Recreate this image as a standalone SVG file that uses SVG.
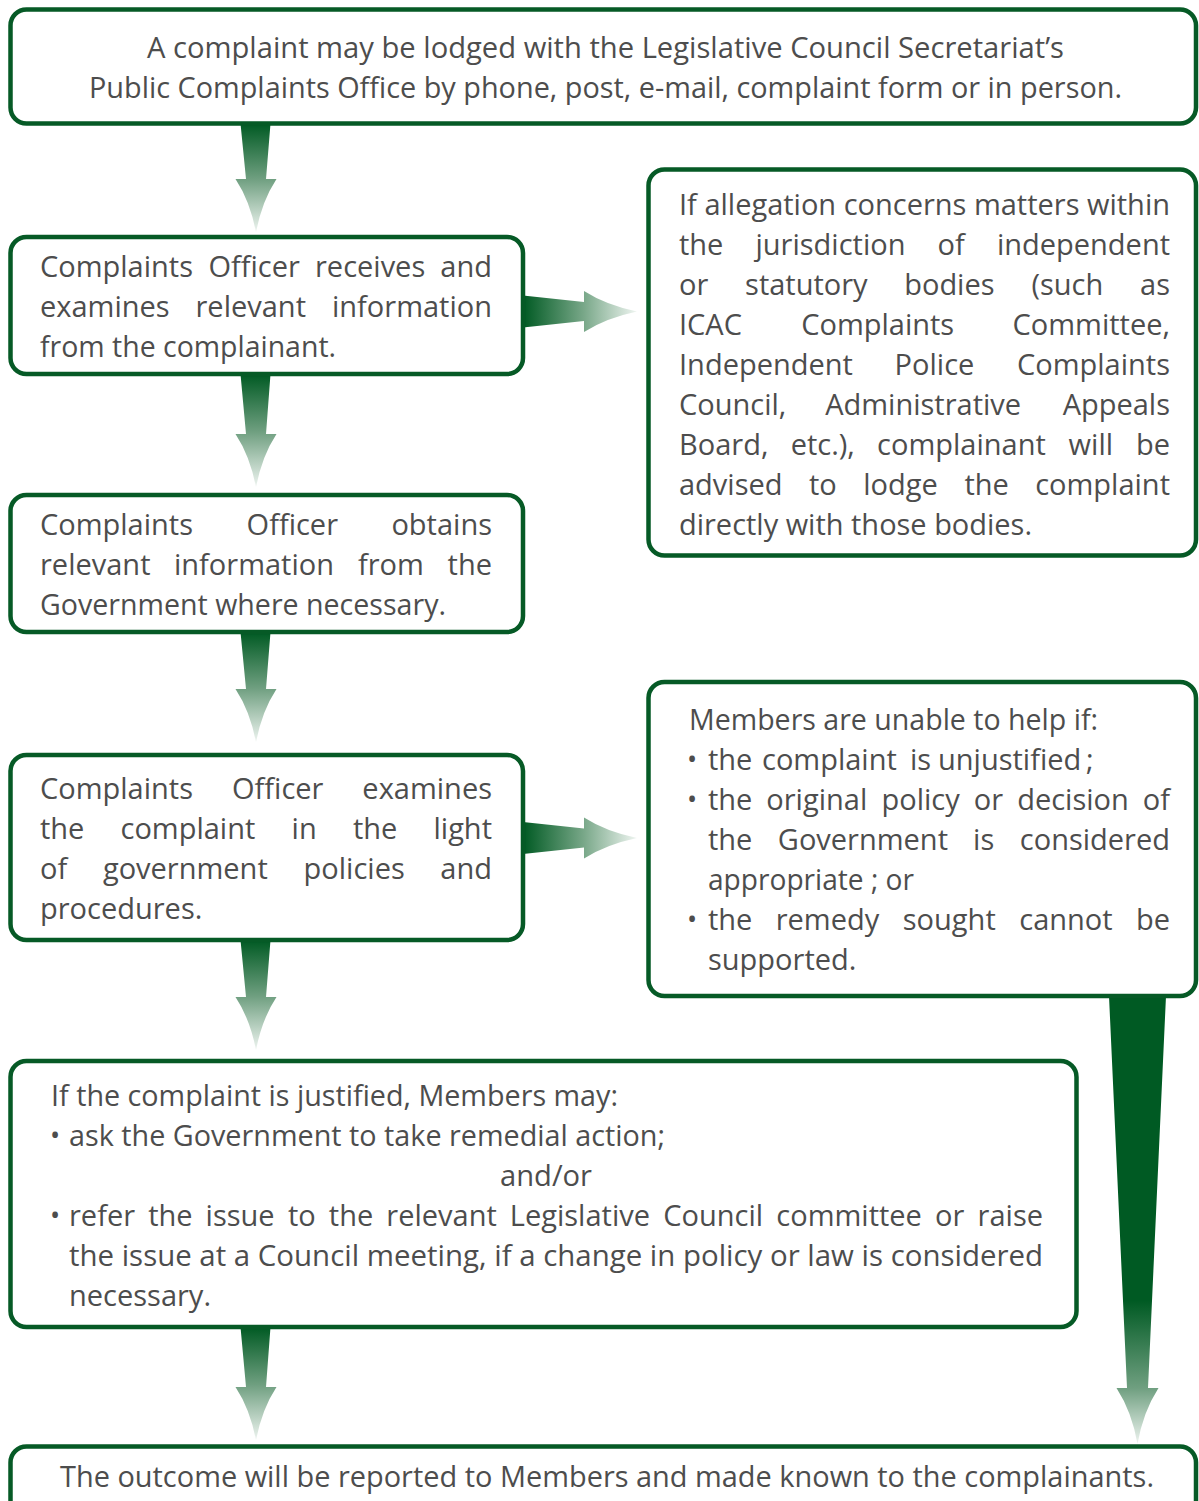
<svg xmlns="http://www.w3.org/2000/svg" width="1199" height="1501" viewBox="0 0 1199 1501">
<defs>
<linearGradient id="gv" x1="0" y1="0" x2="0" y2="1">
<stop offset="0" stop-color="#005a23"/>
<stop offset="0.51" stop-color="#6f9f80"/>
<stop offset="1" stop-color="#eef4f0"/>
</linearGradient>
<linearGradient id="gh" x1="0" y1="0" x2="1" y2="0">
<stop offset="0" stop-color="#005a23"/>
<stop offset="0.53" stop-color="#78a788"/>
<stop offset="1" stop-color="#eff5f1"/>
</linearGradient>
<linearGradient id="gbig" x1="0" y1="0" x2="0" y2="1">
<stop offset="0" stop-color="#005a23"/>
<stop offset="0.68" stop-color="#005a23"/>
<stop offset="0.875" stop-color="#6f9f80"/>
<stop offset="1" stop-color="#eef4f0"/>
</linearGradient>
<style>
.box{fill:#fff;stroke:#065a26;stroke-width:4.5}
.t{font-family:"Open Sans","Noto Sans","Liberation Sans",sans-serif;font-size:29px;fill:#4d4d4d}
.b{font-family:"Open Sans","Noto Sans","Liberation Sans",sans-serif;font-size:27px;fill:#4d4d4d}
.e{text-anchor:end}
.m{text-anchor:middle}
</style>
</defs>
<rect width="1199" height="1501" fill="#fff"/>
<g id="connectors">
<path fill="url(#gv)" d="M240.5,123.5 L270.5,123.5 L266,179 L276.5,179 Q262,201 256,232 Q250,201 235.5,179 L246,179 Z"/>
<path fill="url(#gv)" d="M240.5,374 L270.5,374 L266,434 L276.5,434 Q262,456 256,487 Q250,456 235.5,434 L246,434 Z"/>
<path fill="url(#gv)" d="M240.5,632 L270.5,632 L266,689 L276.5,689 Q262,711 256,742 Q250,711 235.5,689 L246,689 Z"/>
<path fill="url(#gv)" d="M240.5,940 L270.5,940 L266,997 L276.5,997 Q262,1019 256,1050 Q250,1019 235.5,997 L246,997 Z"/>
<path fill="url(#gv)" d="M240.5,1327 L270.5,1327 L266,1387 L276.5,1387 Q262,1409 256,1440 Q250,1409 235.5,1387 L246,1387 Z"/>
<path fill="url(#gh)" d="M523,295.5 L523,327.5 L584,321 L584,332 Q606,318 637,311.5 Q606,305 584,291 L584,302 Z"/>
<path fill="url(#gh)" d="M523,822 L523,854 L584,847.5 L584,858.5 Q606,844.5 637,838 Q606,831.5 584,817.5 L584,828.5 Z"/>
<path fill="url(#gbig)" d="M1109,996 L1166,996 L1148,1388 L1158.5,1388 Q1143,1412 1137.5,1444 Q1132,1412 1116.5,1388 L1127,1388 Z"/>
</g>
<g id="n1">
<rect class="box" x="10.5" y="9.5" width="1185.5" height="114" rx="16"/>
<text class="t m" x="605.5" y="58" textLength="917" lengthAdjust="spacingAndGlyphs">A complaint may be lodged with the Legislative Council Secretariat’s</text>
<text class="t m" x="605.5" y="98" textLength="1033" lengthAdjust="spacingAndGlyphs">Public Complaints Office by phone, post, e-mail, complaint form or in person.</text>
</g>
<g id="n2">
<rect class="box" x="10.5" y="237" width="512.5" height="137" rx="16"/>
<text class="t" y="277"><tspan x="40">Complaints</tspan><tspan x="208.4">Officer</tspan><tspan x="315">receives</tspan></text>
<text class="t e" x="492" y="277">and</text>
<text class="t" y="317"><tspan x="40">examines</tspan><tspan x="195.5">relevant</tspan></text>
<text class="t e" x="492" y="317">information</text>
<text class="t" x="40" y="357" textLength="296" lengthAdjust="spacingAndGlyphs">from the complainant.</text>
</g>
<g id="n3">
<rect class="box" x="10.5" y="495" width="512.5" height="137" rx="16"/>
<text class="t" y="535"><tspan x="40">Complaints</tspan><tspan x="246.6">Officer</tspan></text>
<text class="t e" x="492" y="535">obtains</text>
<text class="t" y="575"><tspan x="40">relevant</tspan><tspan x="174">information</tspan><tspan x="357.9">from</tspan></text>
<text class="t e" x="492" y="575">the</text>
<text class="t" x="40" y="615" textLength="406" lengthAdjust="spacingAndGlyphs">Government where necessary.</text>
</g>
<g id="n4">
<rect class="box" x="10.5" y="755" width="512.5" height="185" rx="16"/>
<text class="t" y="799"><tspan x="40">Complaints</tspan><tspan x="232">Officer</tspan></text>
<text class="t e" x="492" y="799">examines</text>
<text class="t" y="839"><tspan x="40">the</tspan><tspan x="120.5">complaint</tspan><tspan x="291.6">in</tspan><tspan x="352.9">the</tspan></text>
<text class="t e" x="492" y="839">light</text>
<text class="t" y="879"><tspan x="40">of</tspan><tspan x="102.9">government</tspan><tspan x="303.6">policies</tspan></text>
<text class="t e" x="492" y="879">and</text>
<text class="t" x="40" y="919">procedures.</text>
</g>
<g id="n5">
<rect class="box" x="648.5" y="169.5" width="547.5" height="386" rx="16"/>
<text class="t" x="679" y="215" textLength="491" lengthAdjust="spacingAndGlyphs">If allegation concerns matters within</text>
<text class="t" y="255"><tspan x="679">the</tspan><tspan x="755.5">jurisdiction</tspan><tspan x="937.6">of</tspan></text>
<text class="t e" x="1170" y="255">independent</text>
<text class="t" y="295"><tspan x="679">or</tspan><tspan x="745.1">statutory</tspan><tspan x="904.2">bodies</tspan><tspan x="1031.4">(such</tspan></text>
<text class="t e" x="1170" y="295">as</text>
<text class="t" y="335"><tspan x="679">ICAC</tspan><tspan x="801.2">Complaints</tspan></text>
<text class="t e" x="1170" y="335">Committee,</text>
<text class="t" y="375"><tspan x="679">Independent</tspan><tspan x="894.6">Police</tspan></text>
<text class="t e" x="1170" y="375">Complaints</text>
<text class="t" y="415"><tspan x="679">Council,</tspan><tspan x="825.2">Administrative</tspan></text>
<text class="t e" x="1170" y="415">Appeals</text>
<text class="t" y="455"><tspan x="679">Board,</tspan><tspan x="790.7">etc.),</tspan><tspan x="877.1">complainant</tspan><tspan x="1068.6">will</tspan></text>
<text class="t e" x="1170" y="455">be</text>
<text class="t" y="495"><tspan x="679">advised</tspan><tspan x="809">to</tspan><tspan x="863.2">lodge</tspan><tspan x="964.4">the</tspan></text>
<text class="t e" x="1170" y="495">complaint</text>
<text class="t" x="679" y="535" textLength="353" lengthAdjust="spacingAndGlyphs">directly with those bodies.</text>
</g>
<g id="n6">
<rect class="box" x="648.5" y="682" width="547.5" height="314" rx="16"/>
<text class="t" x="689" y="730" textLength="409" lengthAdjust="spacingAndGlyphs">Members are unable to help if:</text>
<text class="b" x="687" y="769">•</text>
<text class="t" y="770"><tspan x="708">the</tspan><tspan x="762">complaint</tspan><tspan x="910">is</tspan><tspan x="938">unjustified</tspan><tspan x="1086">;</tspan></text>
<text class="b" x="687" y="809">•</text>
<text class="t" y="810"><tspan x="708">the</tspan><tspan x="766.3">original</tspan><tspan x="881.5">policy</tspan><tspan x="973.8">or</tspan><tspan x="1017.2">decision</tspan></text>
<text class="t e" x="1170" y="810">of</text>
<text class="t" y="850"><tspan x="708">the</tspan><tspan x="777.8">Government</tspan><tspan x="973.1">is</tspan></text>
<text class="t e" x="1170" y="850">considered</text>
<text class="t" x="708" y="890" textLength="206" lengthAdjust="spacingAndGlyphs">appropriate ; or</text>
<text class="b" x="687" y="929">•</text>
<text class="t" y="930"><tspan x="708">the</tspan><tspan x="775.7">remedy</tspan><tspan x="902.8">sought</tspan><tspan x="1019.3">cannot</tspan></text>
<text class="t e" x="1170" y="930">be</text>
<text class="t" x="708" y="970">supported.</text>
</g>
<g id="n7">
<rect class="box" x="10.5" y="1061" width="1066" height="266" rx="16"/>
<text class="t" x="51" y="1106" textLength="567" lengthAdjust="spacingAndGlyphs">If the complaint is justified, Members may:</text>
<text class="b" x="50" y="1145">•</text>
<text class="t" x="69" y="1146" textLength="596" lengthAdjust="spacingAndGlyphs">ask the Government to take remedial action;</text>
<text class="t" x="500" y="1186" textLength="92" lengthAdjust="spacingAndGlyphs">and/or</text>
<text class="b" x="50" y="1225">•</text>
<text class="t" y="1226"><tspan x="69">refer</tspan><tspan x="148.2">the</tspan><tspan x="205.6">issue</tspan><tspan x="287.9">to</tspan><tspan x="328.8">the</tspan><tspan x="386.3">relevant</tspan><tspan x="509.8">Legislative</tspan><tspan x="663.3">Council</tspan><tspan x="776.3">committee</tspan><tspan x="935">or</tspan></text>
<text class="t e" x="1043" y="1226">raise</text>
<text class="t" x="69" y="1266" textLength="974" lengthAdjust="spacingAndGlyphs">the issue at a Council meeting, if a change in policy or law is considered</text>
<text class="t" x="69" y="1306">necessary.</text>
</g>
<g id="n8">
<rect class="box" x="10.5" y="1446.5" width="1185.5" height="90" rx="16"/>
<text class="t m" x="607" y="1487" textLength="1094" lengthAdjust="spacingAndGlyphs">The outcome will be reported to Members and made known to the complainants.</text>
</g>
</svg>
